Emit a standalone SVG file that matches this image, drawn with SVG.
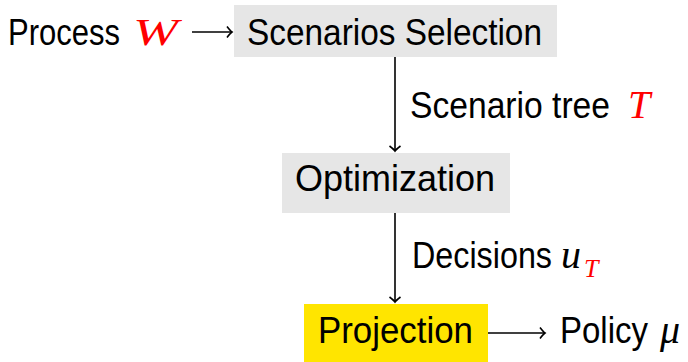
<svg xmlns="http://www.w3.org/2000/svg" width="688" height="362" viewBox="0 0 688 362">
<style>
.t{font-family:"Liberation Sans",Arial,sans-serif;font-size:37px;fill:#000}
.m{font-family:"Liberation Serif","DejaVu Serif",serif;font-style:italic;font-size:40px}
.red{fill:#ff0000}
.c{stroke:#000;stroke-width:1.6;fill:none;marker-end:url(#ah)}
</style>
<defs>
<marker id="ah" viewBox="-7 -7 9 14" markerWidth="9" markerHeight="14" refX="0" refY="0" orient="auto" markerUnits="userSpaceOnUse">
<path d="M-5,-5.5 Q-1.5,-1 0,0 Q-1.5,1 -5,5.5" fill="none" stroke="#000" stroke-width="1.6"/>
</marker>
</defs>
<rect width="688" height="362" fill="#fff"/>
<g id="process">
<text class="t" x="8" y="45"><tspan textLength="112" lengthAdjust="spacingAndGlyphs">Process</tspan><tspan x="133" class="m red" style="font-size:38px" textLength="45" lengthAdjust="spacingAndGlyphs">W</tspan></text>
</g>
<g id="scenarios-selection">
<rect x="234" y="5" width="323" height="52" fill="#e6e6e6"/>
<text class="t" x="247" y="45" textLength="295" lengthAdjust="spacingAndGlyphs">Scenarios Selection</text>
</g>
<g id="optimization">
<rect x="282" y="153" width="228" height="60" fill="#e6e6e6"/>
<text class="t" x="295" y="191" textLength="200" lengthAdjust="spacingAndGlyphs">Optimization</text>
</g>
<g id="projection">
<rect x="304" y="304" width="184" height="58" fill="#ffe500"/>
<text class="t" x="318" y="343" textLength="155" lengthAdjust="spacingAndGlyphs">Projection</text>
</g>
<g id="policy">
<text class="t" x="560" y="343" textLength="88" lengthAdjust="spacingAndGlyphs">Policy</text>
<text class="m" x="660" y="343">μ</text>
</g>
<g id="connectors">
<line class="c" x1="192" y1="32" x2="232" y2="32"/>
<line class="c" x1="395" y1="57" x2="395" y2="151"/>
<line class="c" x1="395" y1="213" x2="395" y2="302"/>
<line class="c" x1="488" y1="333" x2="545" y2="333"/>
</g>
<g id="labels">
<text class="t" x="410" y="118" textLength="200" lengthAdjust="spacingAndGlyphs">Scenario tree</text>
<text class="m red" x="628" y="118">T</text>
<text class="t" x="412" y="268" textLength="140" lengthAdjust="spacingAndGlyphs">Decisions</text>
<text class="m" x="561" y="268">u<tspan x="584" y="277" class="red" style="font-size:26px">T</tspan></text>
</g>
</svg>
